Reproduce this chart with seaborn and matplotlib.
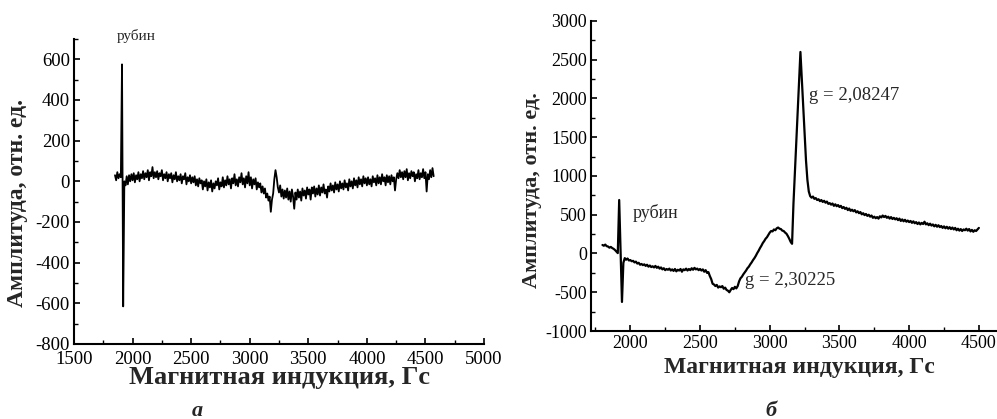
import numpy as np
import pandas as pd
import seaborn as sns
import matplotlib.pyplot as plt
from matplotlib.ticker import MultipleLocator

# panel a: field step 10 Gs, 1850..4570
field_a = np.arange(1850, 4571, 10)
amp_a = [
    30, 5, 45, 15, 35, 20, 575, -615, 0,
    -20, 25, -15, 30, 0, 35,
    5, 40, -5, 30, 10, 45, 0, 35, 15, 50,
    10, 40, 20, 55, 5, 45, 25, 70, 15, 45,
    20, 50, 10, 40, 25, 55, 5, 35, 15, 45,
    0, 35, 15, 40, -5, 30, 10, 45, 0, 25,
    5, 35, -10, 25, 10, 40, -15, 20, 0, 30,
    -10, 20, -5, 25, -20, 10, -25, 15, -10, 5,
    -40, 0, -25, 10, -45, -5, -30, 5, -50, -10,
    -35, 0, -20, 15, -40, -5, -25, 20, -30, 5,
    -20, 25, -15, 10, -35, 15, -10, 35, -20, 10,
    -25, 20, -5, 40, -15, 15, -30, 25, -10, 45,
    -20, 20, -35, 10, -15, 15, -40, -5, -30, -10,
    -55, -25, -60, -35, -80, -60, -95, -75, -150, -90,
    -60, 10, 55, 20, -30, -55, -20, -75, -40, -85,
    -45, -80, -35, -90, -50, -100, -40, -75, -135, -55,
    -90, -40, -80, -50, -95, -35, -70, -45, -85, -30,
    -65, -40, -90, -30, -60, -25, -75, -35, -65, -20,
    -70, -30, -55, -15, -60, -40, -80, -25, -50, -10,
    -45, -20, -55, -5, -40, -15, -50, 0, -35, -10,
    -40, 5, -30, -10, -45, 10, -25, 0, -35, 15,
    -20, 5, -30, 20, -15, 10, -25, 25, -10, 15,
    -20, 20, -15, 10, -25, 25, -5, 15, -20, 30,
    -10, 20, -15, 35, 0, 20, -20, 30, -5, 25,
    -15, 30, 0, 20, -45, 10, 40, 15, 55, 20,
    45, 10, 50, 20, 60, 5, 40, 15, 50, 25,
    45, 0, 35, 15, 55, 10, 40, 20, 60, 15,
    45, -50, 35, 10, 55, 20, 65, 25,
]

# panel b: field step 10 Gs, 1800..4500
field_b = np.arange(1800, 4501, 10)
amp_b = [
    110, 100, 115, 95, 90, 75, 85, 70, 60, 45,
    25, 5, 690, 30, -625, -120, -60, -80, -65, -90,
    -85, -100, -95, -115, -105, -130, -120, -145, -135, -150,
    -140, -160, -145, -170, -155, -175, -165, -180, -160, -185,
    -170, -195, -180, -205, -190, -215, -200, -210, -195, -220,
    -205, -225, -200, -230, -210, -220, -200, -235, -205, -215,
    -195, -220, -200, -215, -190, -210, -185, -205, -195, -215,
    -200, -220, -205, -235, -215, -250, -240, -290, -330, -390,
    -400, -420, -405, -440, -425, -435, -420, -455, -440, -470,
    -480, -500, -470, -445, -460, -430, -450, -420, -360, -320,
    -300, -270, -245, -220, -190, -170, -140, -115, -85, -60,
    -30, 5, 35, 70, 100, 135, 160, 190, 210, 240,
    270, 290, 285, 310, 300, 325, 335, 320, 315, 295,
    290, 270, 255, 225, 190, 150, 125, 640, 1030, 1420,
    1810, 2210, 2600, 2250, 1900, 1550, 1200, 950, 800, 740,
    720, 735, 705, 715, 690, 700, 675, 690, 665, 680,
    655, 670, 640, 650, 630, 645, 615, 635, 610, 625,
    600, 615, 585, 600, 575, 590, 560, 580, 550, 565,
    545, 560, 530, 545, 520, 535, 505, 520, 495, 510,
    485, 500, 475, 490, 460, 475, 455, 470, 450, 480,
    465, 490, 470, 485, 460, 475, 450, 470, 445, 460,
    440, 455, 430, 450, 420, 440, 415, 435, 410, 425,
    405, 420, 395, 415, 390, 405, 380, 400, 375, 395,
    380, 410, 375, 390, 365, 385, 360, 375, 350, 370,
    345, 365, 340, 355, 330, 350, 325, 345, 320, 340,
    315, 335, 310, 330, 300, 320, 295, 315, 290, 310,
    300, 320, 295, 315, 285, 305, 280, 300, 290, 310,
    330,
]

xlabel = 'Магнитная индукция, Гс'
ylabel = 'Амплитуда, отн. ед.'

df_a = pd.DataFrame({'B': field_a, 'A': amp_a})
df_b = pd.DataFrame({'B': field_b, 'A': amp_b})

sns.set_theme(style="ticks")
plt.rcParams['font.family'] = ['Liberation Serif', 'DejaVu Serif']
plt.rcParams['axes.unicode_minus'] = False

fig = plt.figure(figsize=(9.97, 4.19), dpi=100)
ax1 = fig.add_axes([0.0742, 0.179, 0.4113, 0.728])
ax2 = fig.add_axes([0.5928, 0.210, 0.4072, 0.740])


def style_axis(ax):
    for side in ['top', 'right']:
        ax.spines[side].set_visible(False)
    for side in ['left', 'bottom']:
        ax.spines[side].set_linewidth(1.5)
        ax.spines[side].set_color('black')
    ax.tick_params(which='major', direction='in', length=4, width=1.2,
                   colors='black', labelsize=13.5, pad=3)
    ax.tick_params(which='minor', direction='in', length=3, width=1.0, colors='black')


# panel a
sns.lineplot(data=df_a, x='B', y='A', ax=ax1, color='black', linewidth=1.3,
             estimator=None, sort=False)
ax1.set_xlim(1500, 5000)
ax1.set_ylim(-800, 700)
ax1.xaxis.set_major_locator(MultipleLocator(500))
ax1.xaxis.set_minor_locator(MultipleLocator(250))
ax1.yaxis.set_major_locator(MultipleLocator(200))
ax1.yaxis.set_minor_locator(MultipleLocator(100))
style_axis(ax1)
ax1.tick_params(axis='x', which='major', pad=5)
ax1.set_xlabel(xlabel, fontsize=19, fontweight='bold', va='center')
ax1.set_ylabel(ylabel, fontsize=17, fontweight='bold', va='center')
ax1.xaxis.set_label_coords(0.502, -0.110)
ax1.yaxis.set_label_coords(-0.137, 0.462)
ax1.text(2030, 715, 'рубин', fontsize=11, ha='center', va='center', clip_on=False)

# panel b
sns.lineplot(data=df_b, x='B', y='A', ax=ax2, color='black', linewidth=1.6,
             estimator=None, sort=False)
ax2.set_xlim(1718, 4630)
ax2.set_ylim(-1000, 3000)
ax2.xaxis.set_major_locator(MultipleLocator(500))
ax2.xaxis.set_minor_locator(MultipleLocator(250))
ax2.yaxis.set_major_locator(MultipleLocator(500))
ax2.yaxis.set_minor_locator(MultipleLocator(250))
style_axis(ax2)
ax2.tick_params(which='major', labelsize=13)
ax2.set_xlabel(xlabel, fontsize=17, fontweight='bold', va='center')
ax2.set_ylabel(ylabel, fontsize=16, fontweight='bold', va='center')
ax2.xaxis.set_label_coords(0.512, -0.118)
ax2.yaxis.set_label_coords(-0.145, 0.455)
ax2.text(2177, 522, 'рубин', fontsize=13, ha='center', va='center')
ax2.text(3279, 2043, 'g = 2,08247', fontsize=13.5, ha='left', va='center')
ax2.text(2820, -342, 'g = 2,30225', fontsize=13.5, ha='left', va='center')

fig.text(0.198, 0.02, 'а', fontsize=16, fontweight='bold', style='italic',
         ha='center', va='center')
fig.text(0.773, 0.02, 'б', fontsize=16, fontweight='bold', style='italic',
         ha='center', va='center')

fig.savefig('out.png', dpi=100, facecolor='white')
